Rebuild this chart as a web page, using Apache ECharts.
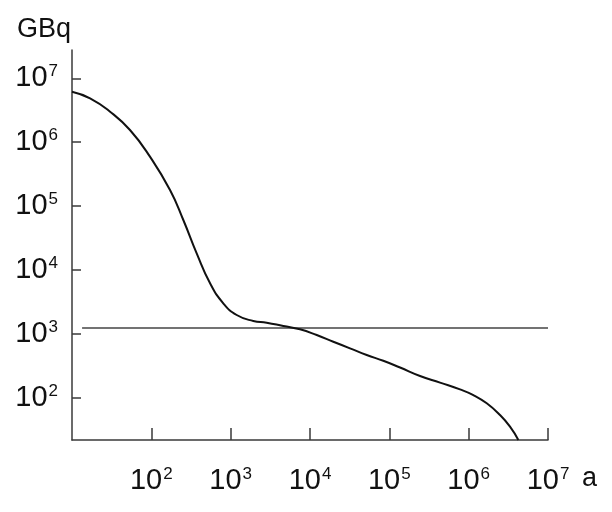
<!DOCTYPE html>
<html>
<head>
<meta charset="utf-8">
<script src="https://cdn.jsdelivr.net/npm/echarts@6/dist/echarts.min.js"></script>
<style>
html,body{margin:0;padding:0;background:#fff;}
#chart{width:612px;height:512px;}
</style>
</head>
<body>
<div id="chart"></div>
<script>
// Years (a)
var years = [10, 16.9, 30.2, 53.8, 96.1, 172, 253, 373, 550, 807, 1191, 1928, 2844, 4613, 7482,
  12160, 19680, 31920, 51870, 83950, 136500, 243800, 435500, 778000, 1146000, 1690000, 2480000, 3320000, 4230000];
// Activity (GBq)
var activity = [6.17e6, 4.86e6, 3.0e6, 1.55e6, 5.93e5, 1.78e5, 6.05e4, 1.82e4, 6180, 3006, 1972, 1588, 1493, 1325, 1177,
  958, 753, 593, 466, 379, 297, 219, 172, 135, 110, 81.7, 53.6, 35.2, 21.8];
// Reference level line
var refYears = [13.4, 1e7];
var refLevel = [1233, 1233];
// Tick values
var xTicks = [1e2, 1e3, 1e4, 1e5, 1e6, 1e7];
var yTicks = [1e2, 1e3, 1e4, 1e5, 1e6, 1e7];

var axisColor = '#3a3a3a';
var font = 'Liberation Sans, Arial, sans-serif';
function powLabel(v) {
  return '{b|10}{s|' + Math.round(Math.log10(v)) + '}';
}
var rich = {
  b: {fontSize: 29, fontFamily: font, color: '#111', lineHeight: 30},
  s: {fontSize: 17, fontFamily: font, color: '#111', verticalAlign: 'top', lineHeight: 18, padding: [0,0,0,1]}
};

var chart = echarts.init(document.getElementById('chart'), null, {renderer: 'canvas'});
chart.setOption({
  backgroundColor: '#ffffff',
  animation: false,
  grid: {left: 72, right: 64, top: 50, bottom: 72, containLabel: false, outerBoundsMode: 'none'},
  xAxis: {
    type: 'log', logBase: 10, min: 10, max: 1e7,
    name: 'a', nameLocation: 'end', nameGap: 34,
    nameTextStyle: {fontSize: 27, fontFamily: font, color: '#111', verticalAlign: 'top', lineHeight: 78},
    axisLine: {show: true, lineStyle: {color: axisColor, width: 1.5}},
    axisTick: {show: true, inside: true, length: 12, lineStyle: {color: axisColor, width: 1.5}, customValues: xTicks},
    axisLabel: {show: true, margin: 26, formatter: powLabel, rich: rich, customValues: xTicks},
    splitLine: {show: false},
    minorTick: {show: false}
  },
  yAxis: {
    type: 'log', logBase: 10, min: 21.78, max: 2.773e7,
    name: 'GBq', nameLocation: 'end', nameGap: 7,
    nameTextStyle: {fontSize: 27, fontFamily: font, color: '#111', padding: [0,56,0,0]},
    axisLine: {show: true, lineStyle: {color: axisColor, width: 1.5}},
    axisTick: {show: true, inside: true, length: 9, lineStyle: {color: axisColor, width: 1.5}, customValues: yTicks},
    axisLabel: {show: true, margin: 14, formatter: powLabel, rich: rich, customValues: yTicks},
    splitLine: {show: false},
    minorTick: {show: false}
  },
  series: [
    {
      type: 'line',
      data: years.map(function (x, i) { return [x, activity[i]]; }),
      smooth: 0.5,
      showSymbol: false,
      lineStyle: {color: '#111', width: 2},
      z: 3
    },
    {
      type: 'line',
      data: refYears.map(function (x, i) { return [x, refLevel[i]]; }),
      showSymbol: false,
      lineStyle: {color: '#444', width: 1.6},
      z: 2
    }
  ]
});
</script>
</body>
</html>
